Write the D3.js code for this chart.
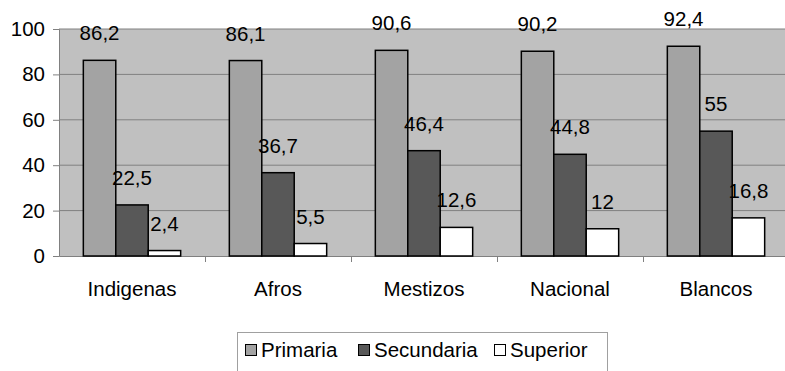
<!DOCTYPE html>
<html>
<head>
<meta charset="utf-8">
<script src="https://cdn.jsdelivr.net/npm/d3@7/dist/d3.min.js"></script>
<style>
  html, body { margin: 0; padding: 0; background: #fff; }
  svg { display: block; font-family: "Liberation Sans", Arial, sans-serif; }
</style>
</head>
<body>
<svg id="chart" width="785" height="371"></svg>
<script>
// Education levels by population group (%)
const categories = ["Indigenas", "Afros", "Mestizos", "Nacional", "Blancos"];
const seriesNames = ["Primaria", "Secundaria", "Superior"];
const primaria   = [86.2, 86.1, 90.6, 90.2, 92.4];
const secundaria = [22.5, 36.7, 46.4, 44.8, 55];
const superior   = [2.4, 5.5, 12.6, 12, 16.8];
const yTicks = [0, 20, 40, 60, 80, 100];

const seriesValues = [primaria, secundaria, superior];
const colors = ["#a3a3a3", "#585858", "#ffffff"];
const FONT = 20.5;

const svg = d3.select("#chart");
const plot = { left: 59, top: 29, right: 789, bottom: 256 };

const x0 = d3.scaleBand().domain(categories).range([plot.left, plot.right]).paddingInner(0).paddingOuter(0);
const x1 = d3.scaleBand().domain(seriesNames)
  .range([0, x0.bandwidth()]).paddingOuter(0.75).paddingInner(0);
const y = d3.scaleLinear().domain([0, 100]).range([plot.bottom, plot.top]);

// Plot background
svg.append("rect")
  .attr("x", plot.left).attr("y", plot.top)
  .attr("width", plot.right - plot.left).attr("height", plot.bottom - plot.top)
  .attr("fill", "#c0c0c0");

// Horizontal gridlines
svg.append("g").selectAll("line").data(yTicks.filter(d => d > 0)).join("line")
  .attr("x1", plot.left).attr("x2", plot.right)
  .attr("y1", d => y(d)).attr("y2", d => y(d))
  .attr("stroke", "#808080").attr("stroke-width", 1);

// Y axis
const yAxis = svg.append("g").attr("transform", `translate(${plot.left},0)`)
  .call(d3.axisLeft(y).tickValues(yTicks).tickSize(6).tickPadding(8).tickFormat(d3.format("d")));
yAxis.select(".domain").attr("stroke", "#808080");
yAxis.selectAll(".tick line").attr("stroke", "#808080");
yAxis.selectAll("text").attr("font-size", FONT).attr("fill", "#000")
  .attr("font-family", "'Liberation Sans', Arial, sans-serif");

// X axis
const xAxis = svg.append("g").attr("transform", `translate(0,${plot.bottom})`)
  .call(d3.axisBottom(x0).tickSize(0).tickPadding(25));
xAxis.select(".domain").attr("stroke", "#808080");
xAxis.selectAll("text").attr("font-size", FONT).attr("fill", "#000")
  .attr("font-family", "'Liberation Sans', Arial, sans-serif");
// category separators
svg.append("g").selectAll("line").data(categories.slice(1)).join("line")
  .attr("x1", d => x0(d) + 0.5).attr("x2", d => x0(d) + 0.5)
  .attr("y1", plot.bottom).attr("y2", plot.bottom + 6)
  .attr("stroke", "#808080");

// Bars
const groups = svg.append("g").selectAll("g").data(categories).join("g")
  .attr("transform", d => `translate(${x0(d)},0)`);

seriesNames.forEach((s, si) => {
  groups.append("rect")
    .attr("x", x1(s))
    .attr("y", (d, i) => y(seriesValues[si][i]))
    .attr("width", x1.bandwidth())
    .attr("height", (d, i) => y(0) - y(seriesValues[si][i]))
    .attr("fill", colors[si])
    .attr("stroke", "#000").attr("stroke-width", 1.5);
});

// Value labels
seriesNames.forEach((s, si) => {
  groups.append("text")
    .attr("x", x1(s) + x1.bandwidth() / 2)
    .attr("y", (d, i) => y(seriesValues[si][i]) - 20)
    .attr("text-anchor", "middle")
    .attr("font-size", FONT)
    .attr("fill", "#000")
    .text((d, i) => String(seriesValues[si][i]).replace(".", ","));
});

// Legend
const legend = svg.append("g");
legend.append("rect")
  .attr("x", 237.5).attr("y", 332.5).attr("width", 370).attr("height", 45)
  .attr("fill", "#fff").attr("stroke", "#a0a0a0");
const legendX = [245, 358, 494];
seriesNames.forEach((s, i) => {
  legend.append("rect")
    .attr("x", legendX[i] + 0.5).attr("y", 344.5).attr("width", 11).attr("height", 11)
    .attr("fill", colors[i]).attr("stroke", "#000").attr("stroke-width", 1);
  legend.append("text")
    .attr("x", legendX[i] + 16).attr("y", 357)
    .attr("font-size", FONT).attr("fill", "#000")
    .text(s);
});
</script>
</body>
</html>
